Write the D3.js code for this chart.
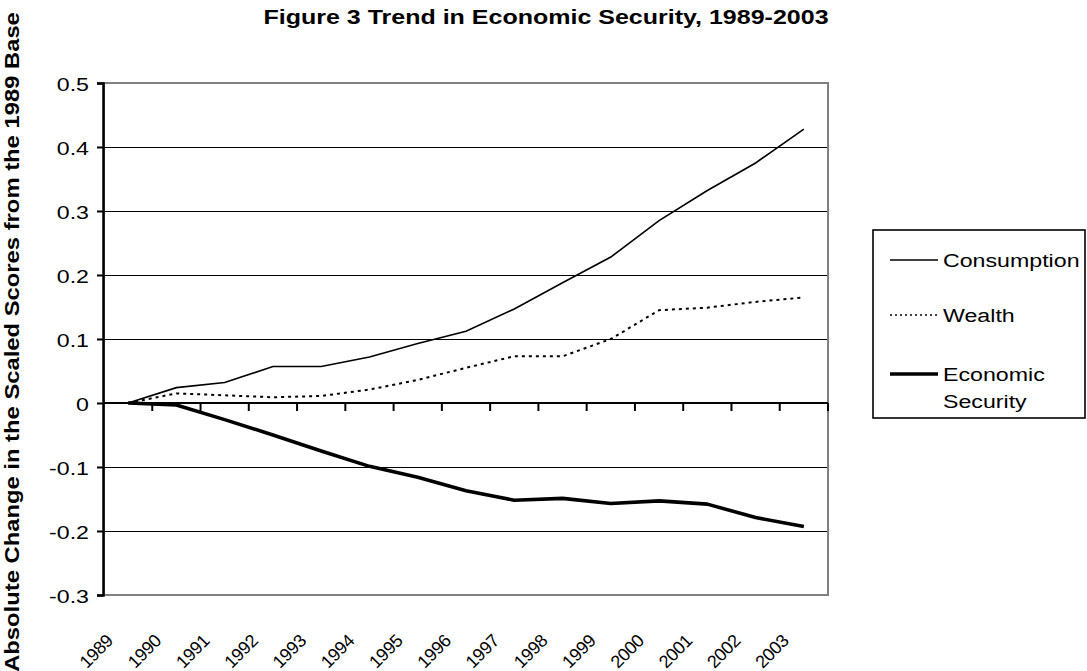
<!DOCTYPE html>
<html><head><meta charset="utf-8">
<script src="https://cdn.jsdelivr.net/npm/d3@7"></script>
<style>
html,body{margin:0;padding:0;background:#fff;}
svg{display:block;}
text{font-family:"Liberation Sans",Arial,sans-serif;fill:#000;}
</style></head>
<body><svg id="c" width="1087" height="671"></svg>
<script>
const years = ["1989","1990","1991","1992","1993","1994","1995","1996","1997","1998","1999","2000","2001","2002","2003"];
const consumption = [0,0.024,0.032,0.057,0.057,0.072,0.093,0.112,0.147,0.188,0.228,0.285,0.332,0.375,0.428];
const wealth = [0,0.015,0.012,0.009,0.011,0.021,0.036,0.055,0.073,0.073,0.100,0.145,0.149,0.158,0.165];
const economicSecurity = [0,-0.003,-0.026,-0.050,-0.075,-0.099,-0.116,-0.137,-0.152,-0.149,-0.157,-0.153,-0.158,-0.179,-0.193];
const yTicks = [-0.3,-0.2,-0.1,0,0.1,0.2,0.3,0.4,0.5];
const seriesNames = ["Consumption","Wealth","Economic Security"];

const svg = d3.select("#c");
const SX = 1.22;
const L = 104, R = 828, T = 83, B = 595;
const x = d3.scaleBand().domain(years).range([L, R]).padding(0);
const y = d3.scaleLinear().domain([-0.3, 0.5]).range([B, T]);
const cx = d => x(d) + x.bandwidth() / 2;
const fmt = d => d === 0 ? "0" : d.toFixed(1);

// gridlines
svg.append("g").selectAll("line").data(yTicks.filter(v => v !== 0 && v !== 0.5 && v !== -0.3))
  .join("line").attr("x1", L).attr("x2", R).attr("y1", d => y(d)).attr("y2", d => y(d))
  .attr("stroke", "#000").attr("stroke-width", 1).attr("shape-rendering", "crispEdges");

// plot border (grey)
svg.append("rect").attr("x", L).attr("y", T).attr("width", R - L).attr("height", B - T)
  .attr("fill", "none").attr("stroke", "#808080").attr("stroke-width", 2);

// y axis
const yAxis = svg.append("g").attr("transform", `translate(${L - 1},0)`)
  .call(d3.axisLeft(y).tickValues(yTicks).tickSize(6).tickFormat(fmt));
yAxis.select(".domain").attr("stroke", "#000").attr("stroke-width", 2.5);
yAxis.selectAll(".tick line").attr("stroke", "#000").attr("stroke-width", 2);
yAxis.selectAll(".tick text").remove();
yAxis.selectAll(".tick").append("g").attr("transform", "translate(-14,7) scale(" + SX + ",1)")
  .append("text").attr("text-anchor", "end").attr("font-size", 19).text(fmt);

// x axis at zero
const y0 = y(0);
svg.append("line").attr("x1", L).attr("x2", R).attr("y1", y0).attr("y2", y0)
  .attr("stroke", "#000").attr("stroke-width", 2.2);
svg.append("g").selectAll("line").data(years).join("line")
  .attr("x1", d => x(d) + x.bandwidth()).attr("x2", d => x(d) + x.bandwidth())
  .attr("y1", y0).attr("y2", y0 + 8).attr("stroke", "#000").attr("stroke-width", 2);

// x labels rotated
svg.append("g").selectAll("text").data(years).join("text")
  .attr("transform", d => `translate(${cx(d) - 14},642) rotate(-45)`)
  .attr("text-anchor", "end").attr("font-size", 18).attr("letter-spacing", -0.4).text(d => d);

// lines
const line = d3.line().x((d, i) => cx(years[i])).y(d => y(d));
svg.append("path").datum(consumption).attr("d", line).attr("fill", "none")
  .attr("stroke", "#000").attr("stroke-width", 1.6);
svg.append("path").datum(wealth).attr("d", line).attr("fill", "none")
  .attr("stroke", "#000").attr("stroke-width", 2).attr("stroke-dasharray", "3,4");
svg.append("path").datum(economicSecurity).attr("d", line).attr("fill", "none")
  .attr("stroke", "#000").attr("stroke-width", 3.6).attr("stroke-linejoin", "round");

// title
svg.append("g").attr("transform", `translate(546,24) scale(${SX},1)`)
  .append("text").attr("text-anchor", "middle").attr("font-size", 20.5).attr("font-weight", "bold")
  .text("Figure 3 Trend in Economic Security, 1989-2003");

// y title
svg.append("g").attr("transform", `translate(19,342) rotate(-90) scale(1.22,1)`)
  .append("text").attr("text-anchor", "middle").attr("font-size", 19.5).attr("font-weight", "bold")
  .text("Absolute Change in the Scaled Scores from the 1989 Base");

// legend
const lg = svg.append("g");
lg.append("rect").attr("x", 873).attr("y", 230).attr("width", 212).attr("height", 188)
  .attr("fill", "#fff").attr("stroke", "#000").attr("stroke-width", 1.6);
const legItems = [
  {name: seriesNames[0], y: 260, w: 1.6, dash: null, lines: ["Consumption"]},
  {name: seriesNames[1], y: 315, w: 1.6, dash: "2,3", lines: ["Wealth"]},
  {name: seriesNames[2], y: 374, w: 3.6, dash: null, lines: ["Economic", "Security"]}
];
legItems.forEach(it => {
  lg.append("line").attr("x1", 890).attr("x2", 938).attr("y1", it.y).attr("y2", it.y)
    .attr("stroke", "#000").attr("stroke-width", it.w).attr("stroke-dasharray", it.dash);
  it.lines.forEach((t, k) => {
    lg.append("g").attr("transform", `translate(943,${it.y + 7 + k * 27}) scale(${SX},1)`)
      .append("text").attr("font-size", 19).text(t);
  });
});
</script></body></html>
